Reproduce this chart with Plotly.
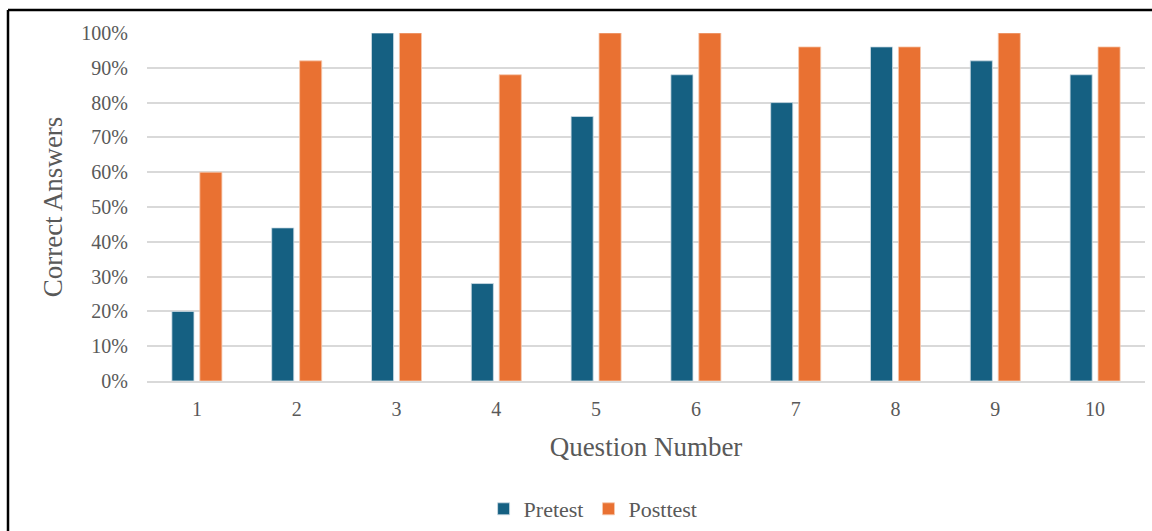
import plotly.graph_objects as go

questions = ["1", "2", "3", "4", "5", "6", "7", "8", "9", "10"]
pretest = [0.20, 0.44, 1.00, 0.28, 0.76, 0.88, 0.80, 0.96, 0.92, 0.88]
posttest = [0.60, 0.92, 1.00, 0.88, 1.00, 1.00, 0.96, 0.96, 1.00, 0.96]

W, H = 1152, 531
L, R, T, B = 147, 7, 33, 150
pw, ph = W - L - R, H - T - B

serif = "Liberation Serif, Times New Roman, serif"
gray = "#595959"

fig = go.Figure()
fig.add_trace(go.Bar(name="Pretest", x=questions, y=pretest,
                     marker=dict(color="#156082", line=dict(color="#cfdde6", width=0.8))))
fig.add_trace(go.Bar(name="Posttest", x=questions, y=posttest,
                     marker=dict(color="#E97132", line=dict(color="#f6c9ae", width=0.8))))

# outer frame: left and top edges
def px_x(x):
    return (x - L) / pw

def px_y(y):
    return 1 - (y - T) / ph

fig.add_shape(type="line", xref="paper", yref="paper",
              x0=px_x(8), x1=px_x(8), y0=px_y(10), y1=px_y(H + 5),
              line=dict(color="black", width=2.5))
fig.add_shape(type="line", xref="paper", yref="paper",
              x0=px_x(8), x1=px_x(W + 5), y0=px_y(10), y1=px_y(10),
              line=dict(color="black", width=2.5))

fig.update_layout(
    width=W, height=H,
    margin=dict(l=L, r=R, t=T, b=B, autoexpand=False),
    paper_bgcolor="white", plot_bgcolor="white",
    barmode="group", bargap=0.44, bargroupgap=0.21,
    font=dict(family=serif, color=gray, size=20),
    showlegend=True,
    legend=dict(orientation="h", x=0.447, xanchor="center", y=px_y(509), yanchor="middle",
                font=dict(family=serif, size=22, color=gray), itemwidth=30,
                traceorder="normal"),
    xaxis=dict(
        title=dict(text="Question Number", font=dict(family=serif, size=27, color=gray),
                   standoff=18),
        showgrid=False, showline=True, linecolor="#d9d9d9", linewidth=1.5,
        ticks="", tickfont=dict(family=serif, size=20, color=gray),
        ticklabelstandoff=9,
    ),
    yaxis=dict(
        title=dict(text="Correct Answers", font=dict(family=serif, size=27, color=gray),
                   standoff=10),
        range=[0, 1.0], dtick=0.1, tickformat=".0%",
        showgrid=True, gridcolor="#d9d9d9", gridwidth=1.5,
        zeroline=False, ticks="", tickfont=dict(family=serif, size=20, color=gray),
        ticklabelstandoff=18,
    ),
)

fig.write_html("out.html")
